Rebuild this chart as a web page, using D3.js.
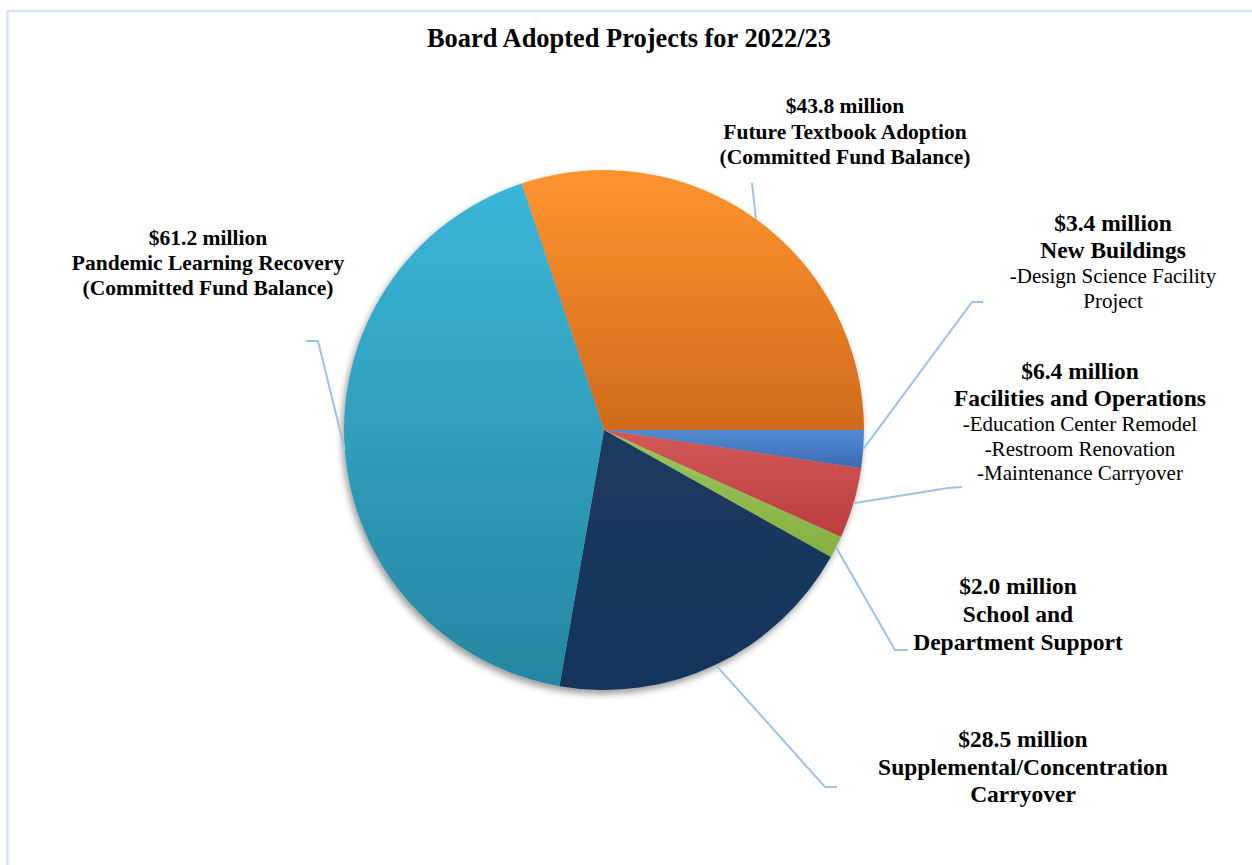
<!DOCTYPE html>
<html lang="en">
<head>
<meta charset="utf-8">
<title>Board Adopted Projects for 2022/23</title>
<script src="https://cdn.jsdelivr.net/npm/d3@7"></script>
<style>
  html, body { margin: 0; padding: 0; background: #fff; }
  svg { display: block; font-family: "Liberation Serif", "Times New Roman", serif; }
</style>
</head>
<body>
<script>
// data, in slice order (clockwise from the top-left)
var categories = ["Future Textbook Adoption", "New Buildings", "Facilities and Operations",
  "School and Department Support", "Supplemental/Concentration Carryover", "Pandemic Learning Recovery"];
var amounts = [43.8, 3.4, 6.4, 2.0, 28.5, 61.2];
var nameLines = [
  ["Future Textbook Adoption", "(Committed Fund Balance)"],
  ["New Buildings"],
  ["Facilities and Operations"],
  ["School and", "Department Support"],
  ["Supplemental/Concentration", "Carryover"],
  ["Pandemic Learning Recovery", "(Committed Fund Balance)"]
];
var detailLines = [
  [],
  ["-Design Science Facility", "Project"],
  ["-Education Center Remodel", "-Restroom Renovation", "-Maintenance Carryover"],
  [], [], []
];
var colors = [
  ["#ff942f", "#d06a1c"],
  ["#528bd2", "#3b6bb3"],
  ["#d45858", "#bb3d3d"],
  ["#9cc65b", "#86af43"],
  ["#1b3b60", "#17355a"],
  ["#3ab6d8", "#2686a0"]
];

// label layout: centre x, first baseline, font size, line height, leader elbow + end
var layout = [
  { x: 845, y: 113, fs: 21.5, lh: 25.5, elbow: [752, 183], end: null },
  { x: 1113, y: 231, fs: 23.5, lh: 27, elbow: [972, 302], end: [983, 302] },
  { x: 1080, y: 379, fs: 23.5, lh: 27, elbow: [948, 488], end: [962, 487] },
  { x: 1018, y: 594, fs: 23.5, lh: 28, elbow: [895, 650], end: [908, 650] },
  { x: 1023, y: 747, fs: 23.5, lh: 27.5, elbow: [825, 787], end: [837, 787] },
  { x: 208, y: 245, fs: 21.5, lh: 25, elbow: [318, 341], end: [306, 341] }
];

var W = 1252, H = 865;
var cx = 604, cy = 430, R = 260;

var svg = d3.select("body").append("svg")
  .attr("width", W)
  .attr("height", H);

var defs = svg.append("defs");

var shadow = defs.append("filter")
  .attr("id", "shadow")
  .attr("x", "-10%").attr("y", "-10%")
  .attr("width", "120%").attr("height", "120%");
shadow.append("feDropShadow")
  .attr("dx", -2).attr("dy", 4)
  .attr("stdDeviation", 3.5)
  .attr("flood-color", "#000")
  .attr("flood-opacity", 0.4);

colors.forEach(function (c, i) {
  var g = defs.append("linearGradient")
    .attr("id", "grad" + i)
    .attr("x1", 0).attr("y1", 0)
    .attr("x2", 0).attr("y2", 1);
  g.append("stop").attr("offset", "0%").attr("stop-color", c[0]);
  g.append("stop").attr("offset", "100%").attr("stop-color", c[1]);
});

// frame (only top and left edges show in the picture)
svg.append("rect")
  .attr("x", 7.5).attr("y", 11)
  .attr("width", W + 20).attr("height", H + 20)
  .attr("fill", "none")
  .attr("stroke", "#d7e4f3")
  .attr("stroke-width", 2.5);

svg.append("text")
  .attr("x", 629)
  .attr("y", 47)
  .attr("text-anchor", "middle")
  .attr("font-weight", "bold")
  .attr("font-size", 28)
  .attr("textLength", 404)
  .attr("lengthAdjust", "spacingAndGlyphs")
  .text("Board Adopted Projects for 2022/23");

var start = -18.5 * Math.PI / 180;
var pie = d3.pie().sort(null)
  .startAngle(start)
  .endAngle(start + 2 * Math.PI);
var arcs = pie(amounts);

var arc = d3.arc().innerRadius(0).outerRadius(R);

var pieG = svg.append("g")
  .attr("transform", "translate(" + cx + "," + cy + ")")
  .attr("filter", "url(#shadow)");

pieG.selectAll("path")
  .data(arcs)
  .enter()
  .append("path")
  .attr("d", arc)
  .attr("fill", function (d, i) { return "url(#grad" + i + ")"; });

// leader lines
svg.append("g")
  .selectAll("polyline")
  .data(arcs)
  .enter()
  .append("polyline")
  .attr("points", function (d, i) {
    var a = (d.startAngle + d.endAngle) / 2;
    var p0 = [cx + R * Math.sin(a), cy - R * Math.cos(a)];
    var pts = [p0, layout[i].elbow];
    if (layout[i].end) pts.push(layout[i].end);
    return pts.map(function (p) { return p.join(","); }).join(" ");
  })
  .attr("fill", "none")
  .attr("stroke", "#9dc3e6")
  .attr("stroke-width", 2);

// labels
var labels = svg.append("g")
  .selectAll("text")
  .data(arcs)
  .enter()
  .append("text")
  .attr("text-anchor", "middle")
  .attr("fill", "#000");

labels.each(function (d, i) {
  var L = layout[i];
  var t = d3.select(this);
  var y = L.y;
  var boldLines = ["$" + amounts[i].toFixed(1) + " million"].concat(nameLines[i]);
  boldLines.forEach(function (s) {
    t.append("tspan")
      .attr("x", L.x).attr("y", y)
      .attr("font-weight", "bold")
      .attr("font-size", L.fs)
      .text(s);
    y += L.lh;
  });
  y -= 2;
  detailLines[i].forEach(function (s) {
    t.append("tspan")
      .attr("x", L.x).attr("y", y)
      .attr("font-size", 21)
      .text(s);
    y += 24.5;
  });
});
</script>
</body>
</html>
